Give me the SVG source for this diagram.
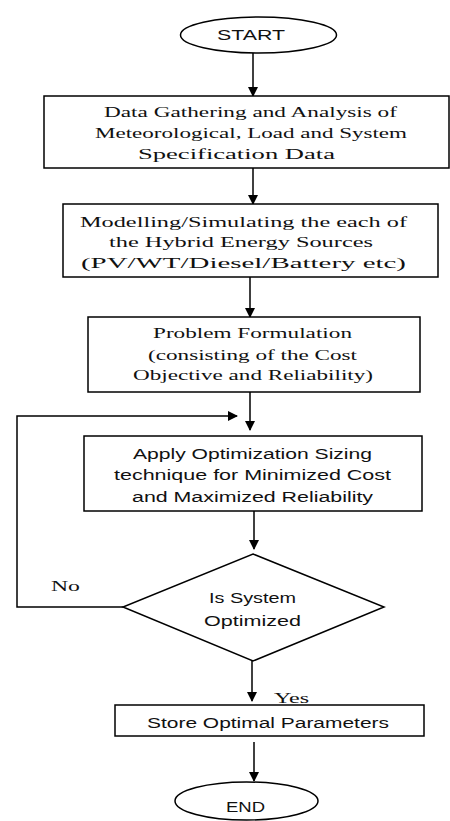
<svg xmlns="http://www.w3.org/2000/svg" width="450" height="821" viewBox="0 0 450 821">
<defs>
<marker id="ah" markerUnits="userSpaceOnUse" markerWidth="10" markerHeight="10" refX="9" refY="5" orient="auto" viewBox="0 0 10 10">
<path d="M0,0 L10,5 L0,10 z" fill="#000"/>
</marker>
<style>
.shape{fill:#fff;stroke:#000;stroke-width:1.5}
.conn{fill:none;stroke:#000;stroke-width:1.5;marker-end:url(#ah)}
.serif{font-size:14.5px;fill:#111}
.sans{font-family:'Liberation Sans',Arial,sans-serif;font-size:14px;fill:#111}
</style>
</defs>
<rect width="450" height="821" fill="#fff"/>
<g id="connectors">
<line class="conn" x1="253" y1="53" x2="253" y2="96"/>
<line class="conn" x1="253" y1="168" x2="253" y2="204"/>
<line class="conn" x1="250" y1="277" x2="250" y2="317"/>
<line class="conn" x1="250" y1="392" x2="250" y2="430"/>
<line class="conn" x1="254" y1="511" x2="254" y2="549"/>
<polyline class="conn" points="123,607 17,607 17,416 237,416"/>
<line class="conn" x1="252" y1="661" x2="252" y2="701"/>
<line class="conn" x1="254" y1="742" x2="254" y2="781"/>
</g>
<g id="start">
<ellipse class="shape" cx="258.5" cy="35" rx="78" ry="18"/>
<text class="sans" x="217" y="40" textLength="68" lengthAdjust="spacingAndGlyphs">START</text>
</g>
<g id="data" font-family="Liberation Serif, Times New Roman, serif">
<rect class="shape" x="44" y="96" width="405" height="72"/>
<text class="serif" x="104" y="117" textLength="293" lengthAdjust="spacingAndGlyphs">Data Gathering and Analysis of</text>
<text class="serif" x="95" y="138" textLength="312" lengthAdjust="spacingAndGlyphs">Meteorological, Load and System</text>
<text class="serif" x="138" y="159" textLength="197" lengthAdjust="spacingAndGlyphs">Specification Data</text>
</g>
<g id="model" font-family="Liberation Serif, Times New Roman, serif">
<rect class="shape" x="63" y="204" width="375" height="73"/>
<text class="serif" x="80" y="227" textLength="327" lengthAdjust="spacingAndGlyphs">Modelling/Simulating the each of</text>
<text class="serif" x="109" y="247" textLength="264" lengthAdjust="spacingAndGlyphs">the Hybrid Energy Sources</text>
<text class="serif" x="81" y="268" textLength="325" lengthAdjust="spacingAndGlyphs">(PV/WT/Diesel/Battery etc)</text>
</g>
<g id="problem" font-family="Liberation Serif, Times New Roman, serif">
<rect class="shape" x="88" y="317" width="332" height="75"/>
<text class="serif" x="153" y="338" textLength="199" lengthAdjust="spacingAndGlyphs">Problem Formulation</text>
<text class="serif" x="148" y="360" textLength="209" lengthAdjust="spacingAndGlyphs">(consisting of the Cost</text>
<text class="serif" x="133" y="380" textLength="240" lengthAdjust="spacingAndGlyphs">Objective and Reliability)</text>
</g>
<g id="optimize">
<rect class="shape" x="84" y="436" width="338" height="75"/>
<text class="sans" x="133" y="459" textLength="239" lengthAdjust="spacingAndGlyphs">Apply Optimization Sizing</text>
<text class="sans" x="114" y="480" textLength="277" lengthAdjust="spacingAndGlyphs">technique for Minimized Cost</text>
<text class="sans" x="132" y="502" textLength="241" lengthAdjust="spacingAndGlyphs">and Maximized Reliability</text>
</g>
<g id="decision">
<polygon class="shape" points="253,554 384,607 253,661 123,607"/>
<text class="sans" x="209" y="603" textLength="87" lengthAdjust="spacingAndGlyphs">Is System</text>
<text class="sans" x="204" y="626" textLength="97" lengthAdjust="spacingAndGlyphs">Optimized</text>
</g>
<g id="labels" font-family="Liberation Serif, Times New Roman, serif">
<text class="serif" x="51" y="591" textLength="29" lengthAdjust="spacingAndGlyphs">No</text>
<text class="serif" x="274" y="703" textLength="35" lengthAdjust="spacingAndGlyphs">Yes</text>
</g>
<g id="store">
<rect class="shape" x="115" y="705" width="309" height="31"/>
<text class="sans" x="147" y="728" textLength="242" lengthAdjust="spacingAndGlyphs">Store Optimal Parameters</text>
</g>
<g id="end">
<ellipse class="shape" cx="246.5" cy="801" rx="71.5" ry="19"/>
<text class="sans" x="226" y="812" textLength="39" lengthAdjust="spacingAndGlyphs">END</text>
</g>
</svg>
